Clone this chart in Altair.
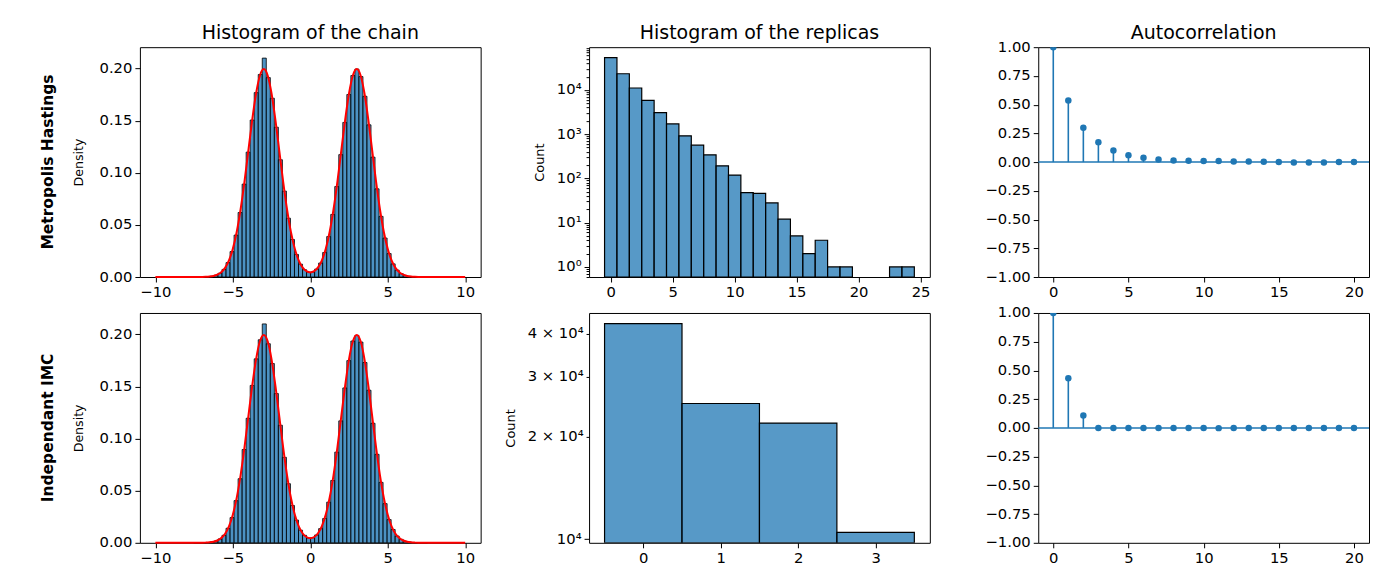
import altair as alt
import pandas as pd

FONT = "DejaVu Sans"
BLUE = "#1f77b4"

# ---------------- data ----------------
row_labels = ["Metropolis Hastings", "Independant IMC"]
col_titles = ["Histogram of the chain", "Histogram of the replicas", "Autocorrelation"]

chain_bin_width = 0.26
chain_bin_left = [round(-7.52 + chain_bin_width * k, 3) for k in range(58)]

mh_chain_density = [0.0000, 0.0000, 0.0001, 0.0003, 0.0007, 0.0017, 0.0036, 0.0073, 0.0138, 0.0244,
                    0.0402, 0.0619, 0.0891, 0.1198, 0.1506, 0.1769, 0.1943, 0.2100, 0.1913, 0.1715,
                    0.1437, 0.1125, 0.0824, 0.0564, 0.0360, 0.0216, 0.0123, 0.0070, 0.0047, 0.0048,
                    0.0076, 0.0134, 0.0235, 0.0388, 0.0600, 0.0868, 0.1174, 0.1483, 0.1751, 0.1933,
                    0.1995, 0.1923, 0.1734, 0.1460, 0.1150, 0.0846, 0.0582, 0.0374, 0.0225, 0.0126,
                    0.0066, 0.0032, 0.0015, 0.0006, 0.0003, 0.0001, 0.0000, 0.0000]
imc_chain_density = [0.0000, 0.0000, 0.0001, 0.0003, 0.0008, 0.0016, 0.0037, 0.0072, 0.0140, 0.0242,
                     0.0405, 0.0615, 0.0895, 0.1195, 0.1510, 0.1765, 0.1948, 0.2100, 0.1910, 0.1720,
                     0.1432, 0.1128, 0.0820, 0.0567, 0.0358, 0.0218, 0.0121, 0.0072, 0.0046, 0.0049,
                     0.0075, 0.0136, 0.0233, 0.0390, 0.0598, 0.0870, 0.1170, 0.1486, 0.1748, 0.1936,
                     0.1990, 0.1926, 0.1730, 0.1464, 0.1147, 0.0849, 0.0580, 0.0376, 0.0223, 0.0128,
                     0.0065, 0.0033, 0.0014, 0.0007, 0.0003, 0.0001, 0.0000, 0.0000]

curve_x = [-10, -9, -8, -7.5, -7.25, -7, -6.75, -6.5, -6.25, -6, -5.75, -5.5, -5.25, -5, -4.75, -4.5,
           -4.25, -4, -3.75, -3.5, -3.25, -3, -2.75, -2.5, -2.25, -2, -1.75, -1.5, -1.25, -1, -0.75,
           -0.5, -0.25, 0, 0.25, 0.5, 0.75, 1, 1.25, 1.5, 1.75, 2, 2.25, 2.5, 2.75, 3, 3.25, 3.5,
           3.75, 4, 4.25, 4.5, 4.75, 5, 5.25, 5.5, 5.75, 6, 6.25, 6.5, 6.75, 7, 7.25, 7.5, 8, 9, 10]
curve_y = [0.0, 0.0, 0.0, 0.00001, 0.00002, 0.00007, 0.00018, 0.00044, 0.00101, 0.00222, 0.00455,
           0.00876, 0.01587, 0.02700, 0.04315, 0.06477, 0.09132, 0.12098, 0.15056, 0.17603, 0.19333,
           0.19947, 0.19333, 0.17603, 0.15056, 0.12098, 0.09132, 0.06477, 0.04317, 0.02707, 0.01604,
           0.00920, 0.00556, 0.00443, 0.00556, 0.00920, 0.01604, 0.02707, 0.04317, 0.06477, 0.09132,
           0.12098, 0.15056, 0.17603, 0.19333, 0.19947, 0.19333, 0.17603, 0.15056, 0.12098, 0.09132,
           0.06477, 0.04315, 0.02700, 0.01587, 0.00876, 0.00455, 0.00222, 0.00101, 0.00044, 0.00018,
           0.00007, 0.00002, 0.00001, 0.0, 0.0, 0.0]

mh_replicas = list(range(25))
mh_replica_counts = [53700, 23300, 11100, 5850, 3080, 1710, 920, 565, 342, 193, 119, 48, 46, 28,
                     12, 5, 2, 4, 1, 1, 0, 0, 0, 1, 1]
imc_replicas = [0, 1, 2, 3]
imc_replica_counts = [42900, 25000, 21900, 10460]

acf_lags = list(range(21))
mh_acf = [1.0, 0.535, 0.298, 0.172, 0.100, 0.060, 0.037, 0.023, 0.014, 0.012, 0.009, 0.009,
          0.006, 0.006, 0.003, 0.0, -0.003, -0.003, -0.003, 0.0, 0.0]
imc_acf = [1.0, 0.432, 0.107, 0.0, 0.0, 0.0, -0.001, 0.0, -0.001, -0.001, 0.0, -0.002, 0.0,
           0.0, 0.0, 0.0, 0.0, 0.0, 0.0, -0.001, -0.001]

mh_log_major = [1, 10, 100, 1000, 10000]
mh_log_minor = [0.6, 0.7, 0.8, 0.9, 2, 3, 4, 5, 6, 7, 8, 9, 20, 30, 40, 50, 60, 70, 80, 90,
                200, 300, 400, 500, 600, 700, 800, 900, 2000, 3000, 4000, 5000, 6000, 7000, 8000,
                9000, 20000, 30000, 40000, 50000, 60000, 70000, 80000, 90000]
imc_log_ticks = [10000, 20000, 30000, 40000]
acf_yticks = [-1.0, -0.75, -0.5, -0.25, 0.0, 0.25, 0.5, 0.75, 1.0]

# ---------------- layout ----------------
W, H = 341, 230
LBL = 14.8


def ax(values, fmt=None, title=None, **kw):
    d = dict(values=values, grid=False, domain=False, tickSize=5, tickColor="black",
             labelPadding=3, labelFont=FONT, labelFontSize=LBL, labelColor="black",
             labelOverlap=False, labelFlush=False, labelBound=False, title=title, titleFont=FONT,
             titleFontWeight="normal", titleColor="black")
    if fmt:
        d["format"] = fmt
    d.update(kw)
    return alt.Axis(**d)


def ttl(text, offset):
    return alt.TitleParams(text=text, offset=offset, font=FONT, fontSize=19,
                           fontWeight="normal", color="black", anchor="middle")


def chain_panel(dens, label, title):
    df = pd.DataFrame({"left": chain_bin_left, "density": dens})
    xs = alt.Scale(domain=[-11, 11], nice=False, zero=False)
    ys = alt.Scale(domain=[0, 0.2205], nice=False)
    xa = ax([-10, -5, 0, 5, 10], "d")
    ya = ax([0, 0.05, 0.1, 0.15, 0.2], ".2f", title="Density", titleFontSize=12.6, titlePadding=13)
    bars = alt.Chart(df).mark_bar(fill=BLUE, fillOpacity=0.8, stroke="black",
                                  strokeWidth=0.8).transform_calculate(
        right=f"datum.left + {chain_bin_width}"
    ).encode(
        x=alt.X("left:Q", scale=xs, axis=xa),
        x2="right:Q",
        y=alt.Y("density:Q", scale=ys, axis=ya),
        y2=alt.datum(0),
    )
    cdf = pd.DataFrame({"x": curve_x, "y": curve_y})
    line = alt.Chart(cdf).mark_line(color="red", strokeWidth=2, interpolate="monotone").encode(
        x=alt.X("x:Q", scale=xs, axis=xa), y=alt.Y("y:Q", scale=ys, axis=ya))
    lab = alt.Chart(pd.DataFrame({"t": [label]})).mark_text(
        angle=270, font=FONT, fontSize=15.5, fontWeight="bold", color="black"
    ).encode(x=alt.value(-92), y=alt.value(H / 2), text="t:N")
    c = alt.layer(bars, line, lab).properties(width=W, height=H)
    if title:
        c = c.properties(title=ttl(title, 4))
    return c


def replica_panel(reps, counts, xdom, xticks, ydom, yvals, label_expr, tick_test, title):
    df = pd.DataFrame({"r": reps, "count": counts})
    df = df[df["count"] > 0]
    bars = alt.Chart(df).mark_bar(fill=BLUE, fillOpacity=0.75, stroke="black", strokeWidth=1.2,
                                  clip=True).transform_calculate(
        lo="datum.r - 0.5", hi="datum.r + 0.5"
    ).encode(
        x=alt.X("lo:Q", scale=alt.Scale(domain=xdom, nice=False, zero=False), axis=ax(xticks, "d")),
        x2="hi:Q",
        y=alt.Y("count:Q", scale=alt.Scale(type="log", domain=ydom, nice=False),
                axis=ax(yvals, None, title="Count", titleFontSize=13, titlePadding=10,
                        labelExpr=label_expr,
                        tickSize={"condition": {"test": tick_test, "value": 5}, "value": 3})),
        y2=alt.value(H),
    )
    c = bars.properties(width=W, height=H)
    if title:
        c = c.properties(title=ttl(title, -3))
    return c


def acf_panel(vals, title):
    df = pd.DataFrame({"lag": acf_lags, "acf": vals})
    xs = alt.Scale(domain=[-1, 21], nice=False, zero=False)
    ys = alt.Scale(domain=[-1, 1], nice=False, zero=False)
    xa = ax([0, 5, 10, 15, 20], "d")
    ya = ax(acf_yticks, ".2f")
    base = alt.Chart(df)
    stems = base.mark_rule(color=BLUE, strokeWidth=1.6).transform_calculate(
        base0="0"
    ).encode(
        x=alt.X("lag:Q", scale=xs, axis=xa),
        y=alt.Y("acf:Q", scale=ys, axis=ya),
        y2="base0:Q")
    zero = alt.Chart(pd.DataFrame({"z": [0.0]})).mark_rule(color=BLUE, strokeWidth=1.5).encode(
        y=alt.Y("z:Q", scale=ys, axis=ya), x=alt.value(0), x2=alt.value(W - 10))
    dots = base.mark_circle(color=BLUE, size=42, opacity=1, clip=True).encode(
        x=alt.X("lag:Q", scale=xs, axis=xa), y=alt.Y("acf:Q", scale=ys, axis=ya))
    c = alt.layer(stems, zero, dots).properties(width=W - 10, height=H)
    if title:
        c = c.properties(title=ttl(title, -4))
    return c


mh_label_expr = ("indexof([1,10,100,1000,10000], datum.value) >= 0 ? '10' + "
                 "['⁰','¹','²','³','⁴'][indexof([1,10,100,1000,10000], datum.value)] : ''")
mh_tick_test = "indexof([1,10,100,1000,10000], datum.value) >= 0"
imc_label_expr = "datum.value == 10000 ? '10⁴' : format(datum.value / 10000, 'd') + ' × 10⁴'"
imc_tick_test = "datum.value == 10000"

panels = [
    chain_panel(mh_chain_density, row_labels[0], col_titles[0]),
    replica_panel(mh_replicas, mh_replica_counts, [-1.75, 25.75], [0, 5, 10, 15, 20, 25],
                  [0.59, 93000], mh_log_major + mh_log_minor, mh_label_expr, mh_tick_test,
                  col_titles[1]),
    acf_panel(mh_acf, col_titles[2]),
    chain_panel(imc_chain_density, row_labels[1], None),
    replica_panel(imc_replicas, imc_replica_counts, [-0.7, 3.7], [0, 1, 2, 3],
                  [9750, 46100], imc_log_ticks, imc_label_expr, imc_tick_test, None),
    acf_panel(imc_acf, None),
]

chart = alt.concat(*panels, columns=3, spacing={"row": 36, "column": 108.5},
                   bounds="flush").properties(
    padding={"left": 32, "top": 15, "right": 0, "bottom": 0}
).configure_view(stroke="black", strokeWidth=1)

chart.save("out.html", embed_options={"renderer": "svg", "actions": False})
